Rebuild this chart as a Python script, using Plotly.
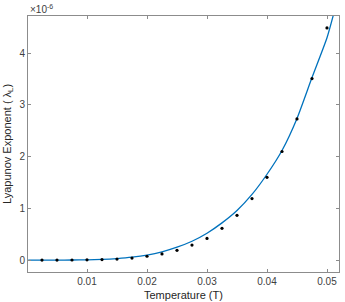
import plotly.graph_objects as go

# Data (y values in units of 1e-6)
temp_points = [0.0025, 0.005, 0.0075, 0.01, 0.0125, 0.015, 0.0175, 0.02, 0.0225, 0.025,
               0.0275, 0.03, 0.0325, 0.035, 0.0375, 0.04, 0.0425, 0.045, 0.0475, 0.05]
lyap_points = [0.0, 0.0005, 0.002, 0.005, 0.01, 0.02, 0.04, 0.075, 0.12, 0.19,
               0.29, 0.42, 0.615, 0.865, 1.19, 1.6, 2.1, 2.73, 3.51, 4.49]

fit_temp = [0.0002, 0.0025, 0.005, 0.0075, 0.01, 0.0125, 0.015, 0.0175, 0.02, 0.0225, 0.025,
            0.0275, 0.03, 0.0325, 0.035, 0.0375, 0.04, 0.0425, 0.045, 0.0475, 0.05, 0.0512]
fit_lyap = [0.0, 0.0003, 0.001, 0.002, 0.006, 0.014, 0.03, 0.056, 0.097, 0.16, 0.25,
            0.365, 0.52, 0.72, 0.96, 1.27, 1.66, 2.12, 2.74, 3.53, 4.3, 4.8]

x_ticks = [0.01, 0.02, 0.03, 0.04, 0.05]
x_ticklabels = ["0.01", "0.02", "0.03", "0.04", "0.05"]
y_ticks = [0, 1, 2, 3, 4]
y_ticklabels = ["0", "1", "2", "3", "4"]

FONT = "Liberation Sans, Arial"

fig = go.Figure()
fig.add_trace(go.Scatter(x=fit_temp, y=fit_lyap, mode="lines",
                         line=dict(color="#0072BD", width=1.3, shape="spline", smoothing=0.6),
                         hoverinfo="skip", showlegend=False))
fig.add_trace(go.Scatter(x=temp_points, y=lyap_points, mode="markers",
                         marker=dict(color="black", size=3.2), showlegend=False))

axis_common = dict(showline=True, linecolor="#8c8c8c", linewidth=1, mirror="ticks",
                   ticks="inside", ticklen=3, tickcolor="#8c8c8c", showgrid=False,
                   zeroline=False, automargin=False,
                   tickfont=dict(family=FONT, size=10, color="#404040"))

fig.update_layout(
    width=345, height=302,
    margin=dict(l=28, r=6, t=16, b=30, autoexpand=False),
    paper_bgcolor="white", plot_bgcolor="white",
    xaxis=dict(range=[0.000167, 0.052], tickvals=x_ticks, ticktext=x_ticklabels, **axis_common),
    yaxis=dict(range=[-0.23, 4.72], tickvals=y_ticks, ticktext=y_ticklabels, **axis_common),
    annotations=[
        dict(text="×10<sup>-6</sup>", xref="paper", yref="paper", x=0, y=1,
             xanchor="left", yanchor="bottom", showarrow=False, yshift=-1,
             font=dict(family=FONT, size=10, color="#404040")),
        dict(text="Temperature (T)", xref="paper", yref="paper", x=0.5, y=0,
             xanchor="center", yanchor="middle", showarrow=False, yshift=-23,
             font=dict(family=FONT, size=11, color="#262626")),
        dict(text="Lyapunov Exponent ( λ<sub>L</sub>)", xref="paper", yref="paper", x=0, y=0.5,
             xanchor="center", yanchor="middle", showarrow=False, xshift=-20, textangle=-90,
             font=dict(family=FONT, size=11, color="#262626")),
    ],
)

fig.write_html("out.html", config={"displayModeBar": False},
               post_script="document.body.style.margin='0';document.body.style.overflow='hidden';")
